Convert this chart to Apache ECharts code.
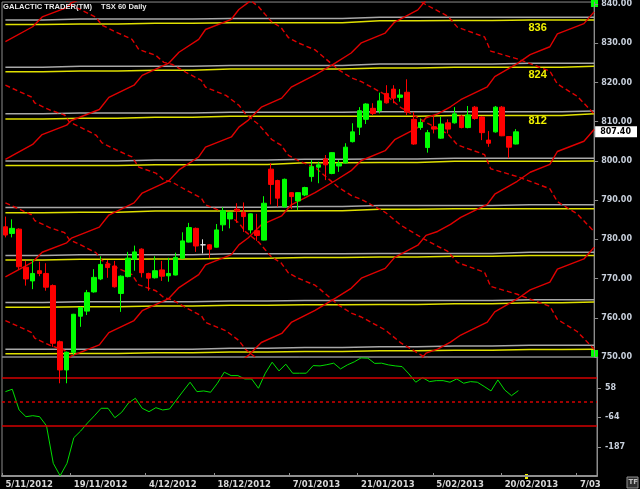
<!DOCTYPE html>
<html><head><meta charset="utf-8">
<script src="https://cdn.jsdelivr.net/npm/echarts@6/dist/echarts.min.js"></script>
<style>html,body{margin:0;padding:0;background:#000;}#c{width:640px;height:489px;}</style>
</head><body><div id="c"></div>
<script>
// ---------- DATA ----------
const dates = ['5/11/2012','6/11/2012','7/11/2012','8/11/2012','9/11/2012','12/11/2012','13/11/2012','14/11/2012','15/11/2012','16/11/2012','19/11/2012','20/11/2012','21/11/2012','22/11/2012','23/11/2012','26/11/2012','27/11/2012','28/11/2012','29/11/2012','30/11/2012',
'3/12/2012','4/12/2012','5/12/2012','6/12/2012','7/12/2012','10/12/2012','11/12/2012','12/12/2012','13/12/2012','14/12/2012','17/12/2012','18/12/2012','19/12/2012','20/12/2012','21/12/2012','24/12/2012','27/12/2012','28/12/2012','31/12/2012',
'2/01/2013','3/01/2013','4/01/2013','7/01/2013','8/01/2013','9/01/2013','10/01/2013','11/01/2013','14/01/2013','15/01/2013','16/01/2013','17/01/2013','18/01/2013','21/01/2013','22/01/2013','23/01/2013','24/01/2013','25/01/2013','28/01/2013','29/01/2013','30/01/2013','31/01/2013',
'1/02/2013','4/02/2013','5/02/2013','6/02/2013','7/02/2013','8/02/2013','11/02/2013','12/02/2013','13/02/2013','14/02/2013','15/02/2013','19/02/2013','20/02/2013','21/02/2013','22/02/2013','25/02/2013','26/02/2013','27/02/2013','28/02/2013',
'1/03/2013','4/03/2013','5/03/2013','6/03/2013','7/03/2013','8/03/2013','11/03/2013'];
const dateLabelIdx = [0,10,21,31,42,52,63,73,84];

const opens  = [783.2,781.5,782.6,772.9,769.4,772.0,771.3,768.2,753.9,746.7,751.2,760.4,761.7,766.6,769.9,773.7,773.2,766.2,770.5,774.9,777.5,771.3,770.2,772.2,770.7,770.9,775.2,779.3,782.8,778.6,778.6,778.0,783.7,785.2,787.7,786.9,782.4,782.2,779.8,797.9,795.0,788.3,791.9,789.8,791.3,796.0,798.4,800.5,796.8,798.7,799.5,804.9,808.6,810.6,813.4,812.8,817.2,818.3,816.2,817.5,810.6,808.5,803.4,808.7,805.8,809.7,809.7,811.4,808.5,813.7,811.2,805.3,807.4,813.7,806.2,804.3];
const closes = [781.1,782.8,773.0,769.9,771.3,771.3,767.8,753.5,746.7,751.2,760.9,762.6,766.4,770.3,773.6,772.8,767.9,770.6,775.2,776.8,771.5,770.1,772.0,770.6,771.3,775.4,779.6,783.0,778.3,778.6,777.5,782.4,787.3,786.8,787.2,785.8,786.5,781.0,789.2,794.0,790.5,795.3,790.9,791.9,793.2,798.5,799.0,799.0,802.1,799.4,803.5,807.4,812.8,814.5,812.1,815.3,814.8,816.0,816.8,812.5,804.3,809.8,807.2,808.1,809.4,808.1,812.0,808.5,811.7,810.8,807.2,804.5,813.7,806.4,803.5,807.4];
const lows   = [780.5,780.5,772.3,768.2,767.3,770.6,766.9,752.6,743.3,743.3,750.5,757.7,760.7,766.4,769.6,770.2,767.7,761.5,770.3,772.0,770.3,766.9,770.0,769.4,769.2,770.8,775.0,779.2,776.8,776.4,775.2,777.9,782.1,782.8,784.2,781.9,781.5,779.6,779.7,788.9,788.3,788.0,787.7,787.5,791.0,794.7,794.3,795.1,796.6,797.2,799.3,804.7,806.6,809.4,811.7,812.1,814.6,814.7,815.1,811.7,804.1,807.9,802.1,807.0,805.6,807.0,809.5,808.3,808.3,810.5,805.3,803.6,807.2,806.3,800.7,804.2];
const highs  = [785.8,785.1,782.8,774.5,774.9,774.3,773.9,768.5,754.2,751.4,761.0,762.8,767.1,772.4,775.7,774.7,774.5,770.8,776.8,778.4,777.7,771.5,775.7,774.5,775.3,776.6,781.8,784.2,783.0,780.0,778.8,783.9,788.2,787.0,789.2,789.4,786.6,786.5,791.0,799.4,795.2,795.5,792.0,792.0,793.4,800.2,799.8,801.5,802.2,800.2,804.5,809.6,813.7,814.7,814.7,817.4,819.3,819.3,818.3,820.8,812.5,810.8,807.9,811.7,811.3,810.6,813.7,811.7,814.0,814.0,811.4,807.6,814.0,814.0,806.3,808.1];

const cci = [42.9,52.9,-33.3,-61.3,-57.1,-61.3,-98.8,-255.4,-307,-255.4,-148.8,-120.9,-87.5,-57.9,-26.3,-26.3,-65.4,-42.9,-4.2,15.4,-26.3,-40.4,-23.8,-33.3,-29.2,8.3,45.8,82.1,42.9,45.8,40.4,77.9,123.8,109.6,109.6,95.8,95.8,57.1,119.6,165.4,129.2,157.1,119.6,119.6,119.6,151.3,150,155,161.3,137.5,154.2,166.7,183.3,182.1,160.4,161.3,154.2,150,147.1,116.7,82.1,101.3,84.6,88.7,88.7,82.1,95.8,77.9,84.6,82.1,64.6,45.8,91.7,50,26.2,47.1];
const cciBands = [100, -100];
const cciZero = 0;

const priceTicks = [750,760,770,780,790,800,810,820,830,840];
const oscTicks = [58,-64,-187];
const lastPrice = 807.40;
const levelNames = ['836','824','812'];

// horizontal level lines (sampled at bar positions levelX)
const levelX = [0,11,22,33,44,55,66,77,86.5];
const yellow836 = [834.8,834.9,835.1,835.2,835.2,835.7,835.8,835.9,835.9];
const gray836   = [835.9,836.2,836.2,836.3,836.3,836.6,836.6,836.6,836.6];
const yellow824 = [822.7,822.9,823.1,823.4,823.4,823.7,823.9,823.9,824.1];
const gray824   = [823.9,824.1,824.1,824.3,824.3,824.7,824.7,824.9,824.9];
const yellow812 = [810.7,810.9,811.1,811.4,811.4,811.4,811.6,811.6,812.0];
const gray812   = [812.0,812.2,812.2,812.4,812.4,812.5,812.5,812.5,812.7];
const yellow800 = [798.8,798.8,799.0,799.1,799.5,799.6,799.9,799.9,800.0];
const gray800   = [800.0,800.0,800.2,800.2,800.4,800.5,800.7,800.7,800.7];
const yellow788 = [786.8,786.9,787.2,787.2,787.3,787.7,787.8,787.8,787.8];
const gray788   = [788.1,788.1,788.2,788.2,788.4,788.6,788.6,788.8,788.8];
const yellow776 = [774.7,774.9,775.0,775.2,775.4,775.5,775.7,775.9,775.9];
const gray776   = [775.9,776.1,776.1,776.3,776.3,776.4,776.4,776.7,776.7];
const yellow764 = [762.7,762.8,763.0,763.2,763.3,763.4,763.6,763.8,764.0];
const gray764   = [763.9,764.1,764.1,764.3,764.4,764.4,764.4,764.6,764.6];
const yellow752 = [750.8,750.9,751.1,751.3,751.4,751.6,751.7,751.9,752.0];
const gray752   = [752.0,752.0,752.0,752.2,752.4,752.6,752.8,753.0,753.0];

// rising (solid red) lines: [bar, price]
const rise1 = [[0,830.4],[4.0,834.2],[5.4,836.7],[9.0,839.1],[9.7,840.3],[13.8,843.1]];
const rise2 = [[0,800.4],[4.0,804.2],[5.4,806.7],[9.0,809.1],[9.7,810.3],[13.8,813.1],[15.2,816.2],[18.9,819.3],[20.1,821.8],[24.0,824.9],[25.5,827.7],[28.4,831.0],[29.4,833.5],[33.2,836.1],[34.3,838.6],[35.7,840.4],[37.6,843.7]];
const rise3 = [[0,770.4],[4.0,774.2],[5.4,776.7],[9.0,779.1],[9.7,780.3],[13.8,783.1],[15.2,786.2],[18.9,789.3],[20.1,791.8],[24.0,794.9],[25.5,797.7],[28.4,801.0],[29.4,803.5],[33.2,806.1],[34.3,808.6],[35.7,810.4],[37.6,813.7],[40.6,816.0],[42.0,818.8],[45.5,821.9],[48.5,825.0],[50.8,827.5],[52.3,830.1],[55.8,832.6],[57.2,835.4],[60.6,838.5],[61.8,841.0],[63.5,842.0]];
const rise4 = [[4.0,744.2],[5.4,746.7],[9.0,749.1],[9.7,750.3],[13.8,753.1],[15.2,756.2],[18.9,759.3],[20.1,761.8],[24.0,764.9],[25.5,767.7],[28.4,771.0],[29.4,773.5],[33.2,776.1],[34.3,778.6],[35.7,780.4],[37.6,783.7],[40.6,786.0],[42.0,788.8],[45.5,791.9],[48.5,795.0],[50.8,797.5],[52.3,800.1],[55.8,802.6],[57.2,805.4],[60.6,808.5],[61.8,811.0],[63.5,812.0],[65.4,813.8],[66.9,815.6],[70.8,818.9],[71.9,821.5],[75.2,824.8],[77.1,827.1],[80.0,829.1],[81.1,832.4],[85.0,835.0],[86.5,838.0]];
const rise5 = [[33.2,746.1],[34.3,748.6],[35.7,750.4],[37.6,753.7],[40.6,756.0],[42.0,758.8],[45.5,761.9],[48.5,765.0],[50.8,767.5],[52.3,770.1],[55.8,772.6],[57.2,775.4],[60.6,778.5],[61.8,781.0],[63.5,782.0],[65.4,783.8],[66.9,785.6],[70.8,788.9],[71.9,791.5],[75.2,794.8],[77.1,797.1],[80.0,799.1],[81.1,802.4],[85.0,805.0],[86.5,808.0]];
const rise6 = [[60.6,748.5],[61.8,751.0],[63.5,752.0],[65.4,753.8],[66.9,755.6],[70.8,758.9],[71.9,761.5],[75.2,764.8],[77.1,767.1],[80.0,769.1],[81.1,772.4],[85.0,775.0],[86.5,778.0]];

// falling (dashed red) lines: [bar, price]
const fall1 = [[0,759.3],[3.8,756.3],[4.3,754.8],[6.5,753.0],[8.7,751.7],[9.4,749.9],[10.9,748.7]];
const fall2 = [[0,789.3],[3.8,786.3],[4.3,784.8],[6.5,783.0],[8.7,781.7],[9.4,779.9],[10.9,778.7],[13.3,776.6],[14.2,774.6],[16.3,772.8],[18.6,771.0],[19.6,768.4],[22.1,766.9],[23.3,765.1],[24.5,764.6],[26.5,762.6],[28.8,760.5],[29.4,758.8],[32.4,756.7],[34.3,754.2],[35.3,751.9],[37.2,749.3],[38.2,747.3]];
const fall3 = [[0,819.3],[3.8,816.3],[4.3,814.8],[6.5,813.0],[8.7,811.7],[9.4,809.9],[10.9,808.7],[13.3,806.6],[14.2,804.6],[16.3,802.8],[18.6,801.0],[19.6,798.4],[22.1,796.9],[23.3,795.1],[24.5,794.6],[26.5,792.6],[28.8,790.5],[29.4,788.8],[32.4,786.7],[34.3,784.2],[35.3,781.9],[37.2,779.3],[38.2,777.3],[39.1,775.5],[40.5,774.0],[41.6,771.4],[43.0,770.1],[45.5,768.3],[46.0,767.6],[48.9,763.3],[50.8,761.2],[52.3,760.2],[55.8,756.9],[58.1,753.6],[60.6,751.0],[61.6,750.0],[65.0,746.9]];
const fall4 = [[6.5,843.0],[8.7,841.7],[9.4,839.9],[10.9,838.7],[13.3,836.6],[14.2,834.6],[16.3,832.8],[18.6,831.0],[19.6,828.4],[22.1,826.9],[23.3,825.1],[24.5,824.6],[26.5,822.6],[28.8,820.5],[29.4,818.8],[32.4,816.7],[34.3,814.2],[35.3,811.9],[37.2,809.3],[38.2,807.3],[39.1,805.5],[40.5,804.0],[41.6,801.4],[43.0,800.1],[45.5,798.3],[46.0,797.6],[48.9,793.3],[50.8,791.2],[52.3,790.2],[55.8,786.9],[58.1,783.6],[60.6,781.0],[61.6,780.0],[65.0,776.9],[66.4,774.1],[70.4,771.6],[71.3,768.0],[75.2,766.0],[80.0,762.9],[81.1,759.6],[84.0,756.5],[86.5,752.0]];
const fall5 = [[35.3,841.9],[37.2,839.3],[38.2,837.3],[39.1,835.5],[40.5,834.0],[41.6,831.4],[43.0,830.1],[45.5,828.3],[46.0,827.6],[48.9,823.3],[50.8,821.2],[52.3,820.2],[55.8,816.9],[58.1,813.6],[60.6,811.0],[61.6,810.0],[65.0,806.9],[66.4,804.1],[70.4,801.6],[71.3,798.0],[75.2,796.0],[80.0,792.9],[81.1,789.6],[84.0,786.5],[86.5,782.0]];
const fall6 = [[58.1,843.6],[60.6,841.0],[61.6,840.0],[65.0,836.9],[66.4,834.1],[70.4,831.6],[71.3,828.0],[75.2,826.0],[80.0,822.9],[81.1,819.6],[84.0,816.5],[86.5,812.0]];

// ---------- CHART ----------
const chart = echarts.init(document.getElementById('c'), null, {renderer:'canvas'});
const labelSet = new Set(dateLabelIdx);
const AX = '#8c8c8c';
const LBL = '#c8d0dc';
const RED = '#d40000';
const candleData = opens.map((o,i)=>[o, closes[i], lows[i], highs[i]]);

function levelSeries(vals, color, width, extra) {
  return Object.assign({
    type:'line', xAxisIndex:2, yAxisIndex:0, symbol:'none', step:'middle', silent:true, z:2,
    data: levelX.map((x,i)=>[x, vals[i]]),
    lineStyle:{color:color, width:width}
  }, extra || {});
}
function diagSeries(pts, dashed) {
  return {type:'line', xAxisIndex:2, yAxisIndex:0, symbol:'none', silent:true, z:3,
    data: pts, lineStyle:{color:'#e00000', width:1.4, type: dashed ? [5,3] : 'solid'}};
}
function lvlLabel(name, y) {
  return {markPoint:{symbol:'circle', symbolSize:1, silent:true, itemStyle:{color:'rgba(0,0,0,0)'},
    label:{show:true, position:'inside', color:'#f0f000', fontWeight:'bold', fontSize:11, fontFamily:'Liberation Sans', formatter:name},
    data:[{coord:[78.2, y]}]}};
}
const titleStyle = {color:'#e8e8e8', fontSize:7.6, fontWeight:'bold', fontFamily:'Liberation Sans'};

const series = [
  levelSeries(gray836,'#a8a8a8',1.5), levelSeries(yellow836,'#e0e000',1.5, lvlLabel(levelNames[0], 834.0)),
  levelSeries(gray824,'#a8a8a8',1.5), levelSeries(yellow824,'#e0e000',1.5, lvlLabel(levelNames[1], 821.9)),
  levelSeries(gray812,'#a8a8a8',1.5), levelSeries(yellow812,'#e0e000',1.5, lvlLabel(levelNames[2], 810.3)),
  levelSeries(gray800,'#a8a8a8',1.5), levelSeries(yellow800,'#e0e000',1.5),
  levelSeries(gray788,'#a8a8a8',1.5), levelSeries(yellow788,'#e0e000',1.5),
  levelSeries(gray776,'#a8a8a8',1.5), levelSeries(yellow776,'#e0e000',1.5),
  levelSeries(gray764,'#a8a8a8',1.5), levelSeries(yellow764,'#e0e000',1.5),
  levelSeries(gray752,'#a8a8a8',1.5), levelSeries(yellow752,'#e0e000',1.5),
  diagSeries(rise1,false), diagSeries(rise2,false), diagSeries(rise3,false),
  diagSeries(rise4,false), diagSeries(rise5,false), diagSeries(rise6,false),
  diagSeries(fall1,true), diagSeries(fall2,true), diagSeries(fall3,true),
  diagSeries(fall4,true), diagSeries(fall5,true), diagSeries(fall6,true),
  {
    type:'candlestick', xAxisIndex:0, yAxisIndex:0, data:candleData, barWidth:5, clip:false, z:5,
    itemStyle:{color:'#00ff00', color0:'#ff0000', borderColor:'#00ff00', borderColor0:'#ff0000', borderColorDoji:'#e8e8e8', borderWidth:1}
  },
  {
    type:'line', xAxisIndex:1, yAxisIndex:1, data:cci, symbol:'none', silent:true, z:4,
    lineStyle:{color:'#00dd00', width:1},
    markLine:{symbol:'none', silent:true, label:{show:false},
      lineStyle:{color:RED, width:1.5, type:'solid'},
      data: cciBands.map(v=>({yAxis:v}))}
  },
  {
    type:'line', xAxisIndex:1, yAxisIndex:1, data:[], symbol:'none', silent:true, z:4,
    markLine:{symbol:'none', silent:true, label:{show:false},
      lineStyle:{color:RED, width:1.5, type:[3,3]},
      data:[{yAxis:cciZero}]}
  }
];

const option = {
  backgroundColor:'#000',
  animation:false,
  title:[
    {text:'GALACTIC TRADER(TM)', left:3, top:3, padding:0, textStyle:titleStyle},
    {text:'TSX 60 Daily', left:101, top:3, padding:0, textStyle:titleStyle}
  ],
  grid:[
    {left:2, right:43, top:2, height:355, show:true, borderColor:AX, borderWidth:1},
    {left:2, right:43, top:357, height:119, show:true, borderColor:AX, borderWidth:1}
  ],
  xAxis:[
    {type:'category', gridIndex:0, data:dates, boundaryGap:true, axisLine:{show:false, onZero:false}, axisTick:{show:false}, axisLabel:{show:false}, splitLine:{show:false}},
    {type:'category', gridIndex:1, data:dates, boundaryGap:true, position:'bottom',
      axisLine:{show:true, onZero:false, lineStyle:{color:'#909090', width:2}},
      axisTick:{show:true, inside:true, length:3, interval:(i)=>labelSet.has(i), lineStyle:{color:'#909090'}},
      axisLabel:{interval:(i)=>labelSet.has(i), align:'left', color:'#d8d8d8', fontSize:8.5, fontWeight:'bold', fontFamily:'DejaVu Sans', margin:4,
        formatter:(v,i)=> i===84 ? v.slice(0,4) : v},
      splitLine:{show:false}},
    {type:'value', gridIndex:0, min:-0.5, max:86.5, show:false, axisLine:{onZero:false}, splitLine:{show:false}}
  ],
  yAxis:[
    {type:'value', gridIndex:0, position:'right', min:750, max:840.5, splitLine:{show:false},
      axisLine:{show:true, onZero:false, lineStyle:{color:AX, width:1}},
      axisTick:{show:true, length:4, customValues:priceTicks, lineStyle:{color:AX}},
      axisLabel:{customValues:priceTicks, formatter:(v)=>Number(v).toFixed(2), color:LBL, fontSize:8, fontWeight:'bold', fontFamily:'DejaVu Sans', margin:7}},
    {type:'value', gridIndex:1, position:'right', min:-308, max:187, splitLine:{show:false},
      axisLine:{show:true, onZero:false, lineStyle:{color:AX, width:1}},
      axisTick:{show:true, length:4, customValues:oscTicks, lineStyle:{color:AX}},
      axisLabel:{customValues:oscTicks, formatter:(v)=>String(v), color:LBL, fontSize:8, fontWeight:'bold', fontFamily:'DejaVu Sans', margin:8}},
    {type:'value', gridIndex:0, position:'right', offset:0, min:750, max:840.5, splitLine:{show:false},
      axisLine:{show:false, onZero:false}, axisTick:{show:false},
      axisLabel:{customValues:[lastPrice], formatter:(v)=>Number(v).toFixed(2), color:'#000', backgroundColor:'#ffffff',
        padding:[2,6,1,5], fontSize:8, fontWeight:'bold', fontFamily:'DejaVu Sans', margin:1}}
  ],
  graphic:[
    {type:'rect', shape:{x:591, y:0, width:7, height:7}, style:{fill:'#00ff00'}, silent:true},
    {type:'rect', shape:{x:591, y:350, width:7, height:7}, style:{fill:'#00ff00'}, silent:true},
    {type:'rect', shape:{x:525, y:474, width:3, height:5}, style:{fill:'#f0f000'}, silent:true},
    {type:'rect', shape:{x:627, y:477, width:11, height:11}, style:{fill:'#303030', stroke:'#909090', lineWidth:1}, silent:true},
    {type:'text', x:628.5, y:479, style:{text:'TF', fill:'#c0c0c0', font:'bold 7px DejaVu Sans'}, silent:true}
  ],
  series: series
};
chart.setOption(option);
</script>
</body></html>
